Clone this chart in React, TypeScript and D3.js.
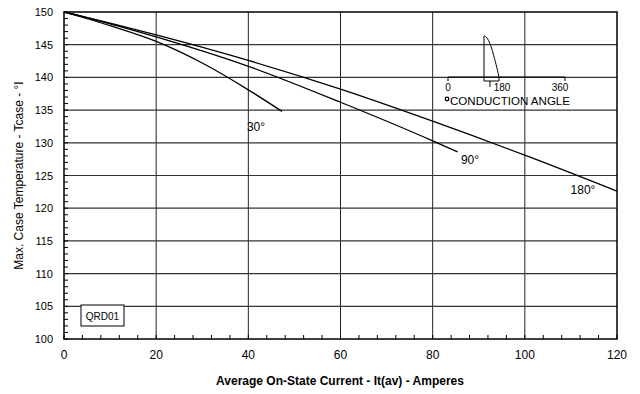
import React from 'react';
import * as d3 from 'd3';

const xTicks = [0, 20, 40, 60, 80, 100, 120];
const yTicks = [100, 105, 110, 115, 120, 125, 130, 135, 140, 145, 150];

const current30 = [0, 10, 20, 30, 40, 47.3];
const temp30 = [150, 147.9, 145.5, 142.2, 138.1, 134.8];
const current90 = [0, 10, 20, 40, 60, 80, 85.4];
const temp90 = [150, 148.2, 146.2, 141.7, 136.2, 130.3, 128.6];
const current180 = [0, 10, 20, 40, 60, 80, 100, 120];
const temp180 = [150, 148.3, 146.5, 142.6, 138.2, 133.3, 128.1, 122.6];

const curveLabels = ['30°', '90°', '180°'];

const width = 640;
const height = 394;
const margin = { left: 64, right: 23, top: 12, bottom: 55 };
const font = 'Liberation Sans, Arial, sans-serif';

const App = () => {
    const x = d3.scaleLinear().domain([0, 120]).range([margin.left, width - margin.right]);
    const y = d3.scaleLinear().domain([100, 150]).range([height - margin.bottom, margin.top]);

    const line = d3.line<[number, number]>()
        .x(d => x(d[0]))
        .y(d => y(d[1]))
        .curve(d3.curveMonotoneX);

    const series = [
        { xs: current30, ys: temp30, label: curveLabels[0], lx: 256, ly: 131 },
        { xs: current90, ys: temp90, label: curveLabels[1], lx: 470, ly: 164 },
        { xs: current180, ys: temp180, label: curveLabels[2], lx: 583, ly: 194 },
    ];

    const xMinor = d3.range(0, 121, 4);
    const yMinor = d3.range(100, 151, 1);

    // little conduction angle sketch (top right)
    const ax = d3.scaleLinear().domain([0, 360]).range([448, 565]);
    const baseY = 77;
    const waveStart = 484;
    const waveEnd = 499;
    const wave = d3.range(0, 21).map(i => {
        const t = i / 20;
        return [waveStart + t * (waveEnd - waveStart), baseY - 41 * Math.cos((t * Math.PI) / 2)] as [number, number];
    });

    return (
        <svg width={width} height={height} style={{ position: 'absolute', left: 0, top: 0 }}>
            <rect width={width} height={height} fill="#fff" />
            {/* grid */}
            {xTicks.slice(1, -1).map(t => (
                <line key={'gx' + t} x1={x(t)} x2={x(t)} y1={y(100)} y2={y(150)} stroke="#222" strokeWidth={1} />
            ))}
            {yTicks.slice(1, -1).map(t => (
                <line key={'gy' + t} x1={x(0)} x2={x(120)} y1={y(t)} y2={y(t)} stroke="#333" strokeWidth={1.2} />
            ))}
            {/* minor ticks */}
            {xMinor.map(t => (
                <line key={'mx' + t} x1={x(t)} x2={x(t)} y1={y(100)} y2={y(100) - 4} stroke="#000" />
            ))}
            {yMinor.map(t => (
                <line key={'my' + t} x1={x(0)} x2={x(0) + 4} y1={y(t)} y2={y(t)} stroke="#000" />
            ))}
            <rect x={x(0)} y={y(150)} width={x(120) - x(0)} height={y(100) - y(150)} fill="none" stroke="#000" strokeWidth={1.5} />

            {/* tick labels */}
            {xTicks.map(t => (
                <text key={'tx' + t} x={x(t)} y={y(100) + 20} textAnchor="middle" fontFamily={font} fontSize={12}>{t}</text>
            ))}
            {yTicks.map(t => (
                <text key={'ty' + t} x={x(0) - 11} y={y(t) + 4} textAnchor="end" fontFamily={font} fontSize={11}>{t}</text>
            ))}

            {/* curves */}
            {series.map(s => (
                <g key={s.label}>
                    <path d={line(s.xs.map((v, i) => [v, s.ys[i]]) as [number, number][]) || ''} fill="none" stroke="#000" strokeWidth={1.3} />
                    <text x={s.lx} y={s.ly} textAnchor="middle" fontFamily={font} fontSize={12}>{s.label}</text>
                </g>
            ))}

            {/* conduction angle inset */}
            <line x1={ax(0)} x2={ax(360)} y1={baseY} y2={baseY} stroke="#000" />
            <line x1={ax(0)} x2={ax(0)} y1={baseY} y2={baseY + 4} stroke="#000" />
            <line x1={ax(360)} x2={ax(360)} y1={baseY} y2={baseY + 4} stroke="#000" />
            <line x1={waveStart} x2={waveStart} y1={baseY - 41} y2={baseY + 4} stroke="#000" />
            <path d={d3.line()(wave) || ''} fill="none" stroke="#000" />
            <line x1={waveEnd} x2={waveEnd} y1={baseY} y2={baseY + 4} stroke="#000" />
            <line x1={waveStart} x2={waveEnd} y1={baseY + 4} y2={baseY + 4} stroke="#000" />
            <line x1={490} x2={490} y1={baseY + 4} y2={baseY + 10} stroke="#000" />
            <text x={ax(0)} y={baseY + 14} textAnchor="middle" fontFamily={font} fontSize={10}>0</text>
            <text x={502} y={baseY + 14} textAnchor="middle" fontFamily={font} fontSize={10}>180</text>
            <text x={560} y={baseY + 14} textAnchor="middle" fontFamily={font} fontSize={10}>360</text>
            <circle cx={447} cy={99} r={1.8} fill="none" stroke="#000" strokeWidth={1.3} />
            <text x={450} y={105} fontFamily={font} fontSize={11.5} textLength={120} lengthAdjust="spacingAndGlyphs">CONDUCTION ANGLE</text>

            {/* id box */}
            <rect x={81} y={305} width={43} height={21} fill="#fff" stroke="#000" />
            <text x={102.5} y={319.5} textAnchor="middle" fontFamily={font} fontSize={10}>QRD01</text>

            {/* axis titles */}
            <text x={340} y={385} textAnchor="middle" fontFamily={font} fontSize={12} fontWeight="bold">
                Average On-State Current - It(av) - Amperes
            </text>
            <text transform={`translate(23, ${y(125)}) rotate(-90)`} textAnchor="middle" fontFamily={font} fontSize={12}>
                Max. Case Temperature - Tcase - °I
            </text>
        </svg>
    );
};

export default App;
